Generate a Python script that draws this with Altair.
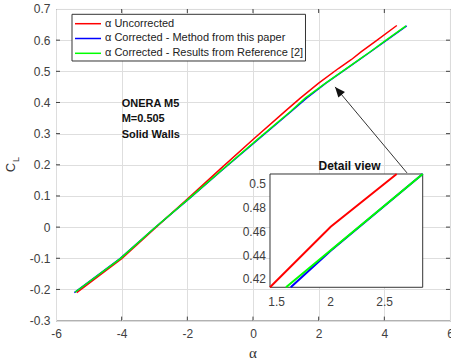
import altair as alt
import pandas as pd

# ---------------- data ----------------
red_alpha = [-5.37, -4.0, -3.0, -2.0, -1.0, 0.0, 1.0, 1.44, 2.0, 2.6, 3.0, 3.3, 3.75, 4.38]
red_cl = [-0.210, -0.101, -0.005, 0.090, 0.186, 0.281, 0.374, 0.414, 0.462, 0.509, 0.538, 0.563, 0.598, 0.647]

blue_alpha = [-5.44, -4.05, -3.0, -1.96, -0.92, 0.13, 1.17, 1.63, 2.21, 2.85, 3.25, 3.57, 4.02, 4.68]
blue_cl = [-0.210, -0.101, -0.003, 0.090, 0.185, 0.279, 0.372, 0.414, 0.461, 0.509, 0.538, 0.562, 0.596, 0.646]

green_alpha = [-5.42, -4.04, -3.0, -1.97, -0.93, 0.11, 1.15, 1.59, 2.20, 2.84, 3.24, 3.56, 4.00, 4.66]
green_cl = [-0.209, -0.101, -0.003, 0.090, 0.185, 0.279, 0.372, 0.414, 0.461, 0.509, 0.538, 0.562, 0.596, 0.646]

# detail view (inset)
inset_red_alpha = [1.438, 2.0, 2.611]
inset_red_cl = [0.4133, 0.4643, 0.5087]
inset_blue_alpha = [1.63, 2.0, 2.852]
inset_blue_cl = [0.4133, 0.4440, 0.5087]
inset_green_alpha = [1.586, 2.0, 2.852]
inset_green_cl = [0.4133, 0.4445, 0.5087]

x_ticks = [-6, -4, -2, 0, 2, 4, 6]
y_ticks = [-0.3, -0.2, -0.1, 0, 0.1, 0.2, 0.3, 0.4, 0.5, 0.6, 0.7]
inset_x_ticks = [1.5, 2, 2.5]
inset_x_labels = ["1.5", "2", "2.5"]
inset_y_ticks = [0.42, 0.44, 0.46, 0.48, 0.5]
inset_y_labels = ["0.42", "0.44", "0.46", "0.48", "0.5"]

legend_labels = ["\u03b1 Uncorrected",
                 "\u03b1 Corrected - Method from this paper",
                 "\u03b1 Corrected - Results from Reference [2]"]
colors = ["#ff0000", "#0000ff", "#00ff00"]

arrow_alpha = [4.69, 2.5]
arrow_cl = [0.174, 0.45]

# ---------------- layout ----------------
W, H = 394, 311.6
FONT = "Liberation Sans"
TXT = "#333333"

xs = alt.Scale(domain=[-6, 6], nice=False, zero=False)
ys = alt.Scale(domain=[-0.3, 0.7], nice=False, zero=False)

x_axis = alt.Axis(values=x_ticks, grid=True, gridColor="#dedede", domain=False,
                  ticks=False, tickSize=0, labelPadding=8, labelFontSize=12,
                  labelFont=FONT, labelColor="#404040", labelFlush=False,
                  labelOverlap=False, labelExpr="datum.value + ''", title=None)
y_axis = alt.Axis(values=y_ticks, grid=True, gridColor="#dedede", domain=False,
                  ticks=False, tickSize=0, labelPadding=6, labelFontSize=12,
                  labelFont=FONT, labelColor="#404040", labelFlush=False,
                  labelOverlap=False, labelExpr="datum.value + ''", title=None)

one = pd.DataFrame({"d": [0]})


def series_df(a, c):
    return pd.DataFrame({"alpha": a, "cl": c})


main_lines = []
for a, c, col in [(red_alpha, red_cl, colors[0]),
                  (blue_alpha, blue_cl, colors[1]),
                  (green_alpha, green_cl, colors[2])]:
    main_lines.append(
        alt.Chart(series_df(a, c)).mark_line(color=col, strokeWidth=1.5).encode(
            x=alt.X("alpha:Q", scale=xs, axis=x_axis),
            y=alt.Y("cl:Q", scale=ys, axis=y_axis),
            order=alt.Order("alpha:Q"),
        )
    )

# inward ticks
xt = pd.DataFrame({"v": x_ticks[1:-1]})
yt = pd.DataFrame({"v": y_ticks[1:-1]})
tick_bottom = alt.Chart(xt).mark_rule(color="#404040", strokeWidth=1).encode(
    x=alt.X("v:Q", scale=xs, axis=x_axis), y=alt.value(H), y2=alt.value(H - 4))
tick_top = alt.Chart(xt).mark_rule(color="#404040", strokeWidth=1).encode(
    x=alt.X("v:Q", scale=xs, axis=x_axis), y=alt.value(0), y2=alt.value(4))
tick_left = alt.Chart(yt).mark_rule(color="#404040", strokeWidth=1).encode(
    y=alt.Y("v:Q", scale=ys, axis=y_axis), x=alt.value(0), x2=alt.value(4))
tick_right = alt.Chart(yt).mark_rule(color="#404040", strokeWidth=1).encode(
    y=alt.Y("v:Q", scale=ys, axis=y_axis), x=alt.value(W), x2=alt.value(W - 4))

# axis titles
x_title = alt.Chart(one).mark_text(text="\u03b1", font="Liberation Serif", fontSize=15,
                                   color=TXT, baseline="middle").encode(
    x=alt.value(197), y=alt.value(344))
y_title_c = alt.Chart(one).mark_text(text="C", font=FONT, fontSize=13, angle=270,
                                     color=TXT, baseline="middle", align="center").encode(
    x=alt.value(-45), y=alt.value(158.5))
y_title_l = alt.Chart(one).mark_text(text="L", font=FONT, fontSize=9, angle=270,
                                     color=TXT, baseline="middle", align="center").encode(
    x=alt.value(-40.5), y=alt.value(150.5))

# annotation
annot = alt.Chart(one).mark_text(text="ONERA M5\nM=0.505\nSolid Walls", lineBreak="\n",
                                 lineHeight=15.5, font=FONT, fontSize=11, fontWeight="bold",
                                 color="#111111", align="left", baseline="middle").encode(
    x=alt.datum(-4, scale=xs, axis=x_axis), y=alt.datum(0.396, scale=ys, axis=y_axis))

# arrow
arrow_df = pd.DataFrame({"alpha": arrow_alpha, "cl": arrow_cl})
arrow_line = alt.Chart(arrow_df).mark_line(color="#333333", strokeWidth=1).encode(
    x=alt.X("alpha:Q", scale=xs, axis=x_axis), y=alt.Y("cl:Q", scale=ys, axis=y_axis))
arrow_head = alt.Chart(arrow_df.iloc[[1]]).mark_point(
    shape="M0,0 L0.42,1 L-0.42,1 Z", size=420, filled=True, color="#111111", opacity=1,
    angle=320).encode(x=alt.X("alpha:Q", scale=xs, axis=x_axis),
                      y=alt.Y("cl:Q", scale=ys, axis=y_axis))

# legend
leg_box = alt.Chart(one).mark_rect(fill="white", stroke="#333333", strokeWidth=1).encode(
    x=alt.value(16), x2=alt.value(249.5), y=alt.value(5.3), y2=alt.value(52))
leg_rows = [14.7, 29.5, 44.3]
legend_layers = [leg_box]
for lab, col, yy in zip(legend_labels, colors, leg_rows):
    legend_layers.append(alt.Chart(one).mark_rule(color=col, strokeWidth=1.5).encode(
        x=alt.value(19), x2=alt.value(45), y=alt.value(yy)))
    legend_layers.append(alt.Chart(one).mark_text(text=lab, font=FONT, fontSize=11, color="#222222",
                                                  align="left", baseline="middle").encode(
        x=alt.value(49), y=alt.value(yy)))

main = alt.layer(*main_lines, tick_bottom, tick_top, tick_left, tick_right,
                 x_title, y_title_c, y_title_l, annot, arrow_line, arrow_head, *legend_layers)

# ---------------- inset ----------------
IX0, IX1, IY0, IY1 = 214, 366.7, 165, 278.3
ixs = alt.Scale(domain=[1.438, 2.852], range=[IX0, IX1], nice=False, zero=False)
iys = alt.Scale(domain=[0.4133, 0.5087], range=[IY1, IY0], nice=False, zero=False)

inset_box = alt.Chart(one).mark_rect(fill="white", stroke="#333333", strokeWidth=1).encode(
    x=alt.value(IX0), x2=alt.value(IX1), y=alt.value(IY0), y2=alt.value(IY1))
inset_lines = []
for a, c, col in [(inset_red_alpha, inset_red_cl, colors[0]),
                  (inset_blue_alpha, inset_blue_cl, colors[1]),
                  (inset_green_alpha, inset_green_cl, colors[2])]:
    inset_lines.append(alt.Chart(series_df(a, c)).mark_line(color=col, strokeWidth=2).encode(
        x=alt.X("alpha:Q", scale=ixs, axis=None),
        y=alt.Y("cl:Q", scale=iys, axis=None)))
inset_xlab = alt.Chart(pd.DataFrame({"v": inset_x_ticks, "t": inset_x_labels})).mark_text(
    font=FONT, fontSize=12, color="#404040", baseline="middle", align="center").encode(
    x=alt.X("v:Q", scale=ixs, axis=None), y=alt.value(292.7), text="t:N")
inset_ylab = alt.Chart(pd.DataFrame({"v": inset_y_ticks, "t": inset_y_labels})).mark_text(
    font=FONT, fontSize=12, color="#404040", baseline="middle", align="right").encode(
    y=alt.Y("v:Q", scale=iys, axis=None), x=alt.value(IX0 - 4), text="t:N")
inset_title = alt.Chart(one).mark_text(text="Detail view", font=FONT, fontSize=12,
                                       fontWeight="bold", color="#111111",
                                       baseline="middle", align="center").encode(
    x=alt.value(293.5), y=alt.value(157))

inset = alt.layer(inset_box, *inset_lines, inset_xlab, inset_ylab, inset_title)

chart = alt.layer(main, inset).resolve_scale(x="independent", y="independent").properties(
    width=W, height=H,
    autosize=alt.AutoSizeParams(type="none"),
    padding={"left": 56, "top": 9, "right": 1, "bottom": 40},
    background="white",
).configure_view(stroke="#404040", strokeWidth=1)

chart.save("out.html", embed_options={"renderer": "svg", "actions": False})
